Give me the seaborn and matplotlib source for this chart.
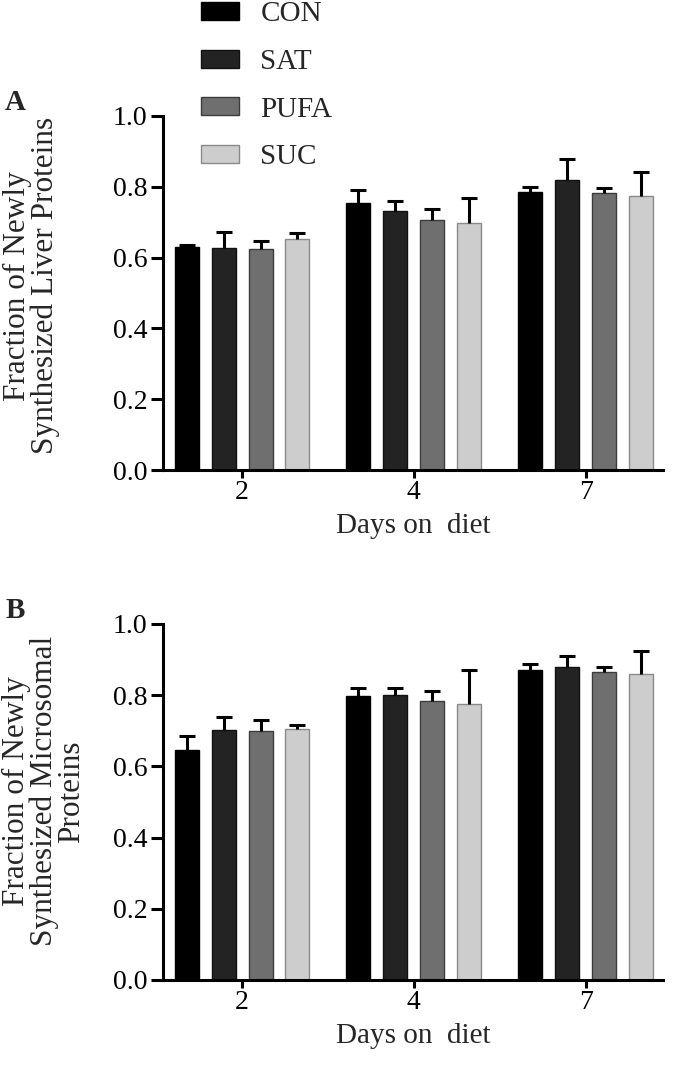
import numpy as np
import pandas as pd
import seaborn as sns
import matplotlib.pyplot as plt
from matplotlib.patches import Patch

# categories
days = ["2", "4", "7"]
diets = ["CON", "SAT", "PUFA", "SUC"]

# panel A - liver proteins (mean, upper error)
liver_con = [0.631, 0.753, 0.786]
liver_sat = [0.626, 0.732, 0.819]
liver_pufa = [0.624, 0.705, 0.783]
liver_suc = [0.652, 0.699, 0.775]
liver_con_err = [0.005, 0.038, 0.013]
liver_sat_err = [0.047, 0.029, 0.059]
liver_pufa_err = [0.024, 0.033, 0.014]
liver_suc_err = [0.018, 0.068, 0.067]

# panel B - microsomal proteins
micro_con = [0.647, 0.799, 0.872]
micro_sat = [0.703, 0.801, 0.880]
micro_pufa = [0.698, 0.784, 0.865]
micro_suc = [0.706, 0.774, 0.860]
micro_con_err = [0.038, 0.021, 0.016]
micro_sat_err = [0.036, 0.019, 0.030]
micro_pufa_err = [0.031, 0.029, 0.014]
micro_suc_err = [0.011, 0.096, 0.064]

colors = ["#000000", "#232323", "#6f6f6f", "#cdcdcd"]
edges = ["#000000", "#111111", "#3c3c3c", "#8a8a8a"]

sns.set_theme(style="ticks")
plt.rcParams['font.family'] = ['Liberation Serif', 'DejaVu Serif']


def long_frame(means):
    rows = []
    for diet, vals in zip(diets, means):
        for day, v in zip(days, vals):
            rows.append({"day": day, "diet": diet, "value": v})
    return pd.DataFrame(rows)


def draw_panel(ax, means, errs, ylabel, letter):
    df = long_frame(means)
    sns.barplot(data=df, x="day", y="value", hue="diet", order=days,
                hue_order=diets, palette=colors, errorbar=None,
                width=0.86, gap=0.35, legend=False, ax=ax)
    # edges + one-sided error bars, taken from the drawn bars
    bar_groups = list(ax.containers)
    for i, cont in enumerate(bar_groups):
        for j, bar in enumerate(cont):
            bar.set_edgecolor(edges[i])
            bar.set_linewidth(1.0)
            xc = bar.get_x() + bar.get_width() / 2
            eb = ax.errorbar(xc, bar.get_height(), yerr=[[0], [errs[i][j]]],
                             fmt="none", ecolor="black", elinewidth=2.2,
                             capsize=6, capthick=2.2, zorder=1)
            eb[1][0].set_visible(False)  # no lower cap
    ax.set_ylim(0, 1.0)
    ax.set_xlim(-0.46, 2.45)
    ax.set_yticks(np.arange(0, 1.01, 0.2))
    ax.set_yticklabels([f"{v:.1f}" for v in np.arange(0, 1.01, 0.2)])
    sns.despine(ax=ax)
    for s in ["left", "bottom"]:
        ax.spines[s].set_linewidth(2.2)
        ax.spines[s].set_color("black")
    ax.tick_params(axis="both", width=2.2, labelsize=20, colors="black")
    ax.tick_params(axis="y", length=8.5, pad=3)
    ax.tick_params(axis="x", length=6, pad=1)
    ax.set_xlabel("Days on  diet", fontsize=21, labelpad=6)
    ax.set_ylabel(ylabel, fontsize=22.5, linespacing=0.93)
    ax.text(-0.316, 1.0, letter, transform=ax.transAxes, fontsize=21,
            fontweight="bold", ha="left", va="bottom")


fig = plt.figure(figsize=(7, 10.79), dpi=100)
ax1 = fig.add_axes([0.233, 0.5644, 0.714, 0.3281])
ax2 = fig.add_axes([0.233, 0.0918, 0.714, 0.3299])

draw_panel(ax1, [liver_con, liver_sat, liver_pufa, liver_suc],
           [liver_con_err, liver_sat_err, liver_pufa_err, liver_suc_err],
           "Fraction of Newly\nSynthesized Liver Proteins", "A")
draw_panel(ax2, [micro_con, micro_sat, micro_pufa, micro_suc],
           [micro_con_err, micro_sat_err, micro_pufa_err, micro_suc_err],
           "Fraction of Newly\nSynthesized Microsomal\nProteins", "B")
ax1.yaxis.set_label_coords(-0.206, 0.52)
ax2.yaxis.set_label_coords(-0.154, 0.53)

handles = [Patch(facecolor=c, edgecolor=e, linewidth=1.0) for c, e in zip(colors, edges)]
fig.legend(handles, diets, loc="upper left", bbox_to_anchor=(0.27, 1.0095),
           frameon=False, fontsize=21, handlelength=1.3, handleheight=0.58,
           handletextpad=0.75, labelspacing=0.74, borderaxespad=0)

fig.savefig("out.png", dpi=100)
